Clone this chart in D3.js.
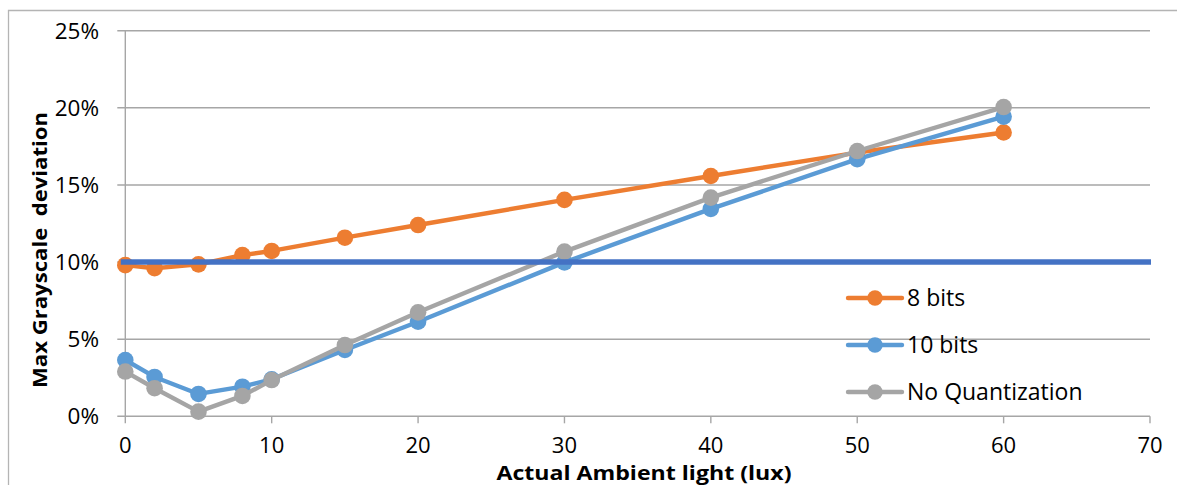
<!DOCTYPE html>
<html>
<head>
<meta charset="utf-8">
<script src="https://cdn.jsdelivr.net/npm/d3@7"></script>
<style>
  html, body { margin: 0; padding: 0; background: #fff; }
  svg { display: block; }
  text { font-family: "Open Sans", "Noto Sans", sans-serif; fill: #000; }
</style>
</head>
<body>
<svg id="chart" width="1177" height="485"></svg>
<script>
const xValues = [0, 2, 5, 8, 10, 15, 20, 30, 40, 50, 60];
const bits8   = [0.098, 0.096, 0.0985, 0.1045, 0.1072, 0.1158, 0.124, 0.1403, 0.1558, 0.171, 0.184];
const bits10  = [0.0365, 0.0255, 0.0145, 0.0192, 0.024, 0.043, 0.0613, 0.0998, 0.1345, 0.1667, 0.1943];
const noQuant = [0.029, 0.0182, 0.003, 0.0132, 0.0235, 0.0462, 0.0674, 0.1068, 0.1418, 0.172, 0.2005];
const thresholdX = [0, 70];
const thresholdValue = 0.10;
const xTicks = [0, 10, 20, 30, 40, 50, 60, 70];
const yTicks = [0, 0.05, 0.10, 0.15, 0.20, 0.25];
const seriesNames = ["8 bits", "10 bits", "No Quantization"];
const seriesColors = ["#ED7D31", "#5B9BD5", "#A5A5A5"];
const xTitle = "Actual Ambient light (lux)";
const yTitle = "Max Grayscale\u00A0 deviation";

const svg = d3.select("#chart");
const x = d3.scaleLinear().domain([0, 70]).range([125.3, 1150]);
const y = d3.scaleLinear().domain([0, 0.25]).range([416.3, 30.7]);

// outer chart border
svg.append("path")
  .attr("d", "M8.5,490 L8.5,10.5 L1180,10.5")
  .attr("fill", "none").attr("stroke", "#b4b4b4").attr("stroke-width", 1.3);

// horizontal gridlines
svg.append("g").selectAll("line").data(yTicks).join("line")
  .attr("x1", x(0) - 8).attr("x2", x(70))
  .attr("y1", d => y(d)).attr("y2", d => y(d))
  .attr("stroke", "#a6a6a6").attr("stroke-width", 1.4);

// y axis line
svg.append("line")
  .attr("x1", x(0)).attr("x2", x(0)).attr("y1", y(0.25)).attr("y2", y(0))
  .attr("stroke", "#a6a6a6").attr("stroke-width", 1.4);

// x axis ticks
svg.append("g").selectAll("line").data(xTicks).join("line")
  .attr("x1", d => x(d)).attr("x2", d => x(d))
  .attr("y1", y(0)).attr("y2", y(0) + 7)
  .attr("stroke", "#a6a6a6").attr("stroke-width", 1.4);

// y tick labels
svg.append("g").selectAll("text").data(yTicks).join("text")
  .attr("x", 99).attr("y", d => y(d)).attr("dy", "0.36em")
  .attr("text-anchor", "end").attr("font-size", 22.5)
  .text(d => d3.format(".0%")(d));

// x tick labels
svg.append("g").selectAll("text").data(xTicks).join("text")
  .attr("x", d => x(d)).attr("y", 452.5)
  .attr("text-anchor", "middle").attr("font-size", 22)
  .text(d => d);

// axis titles
svg.append("text")
  .attr("x", 644).attr("y", 479.5)
  .attr("text-anchor", "middle").attr("font-size", 19).attr("font-weight", "bold")
  .attr("textLength", 295).attr("lengthAdjust", "spacingAndGlyphs")
  .text(xTitle);

svg.append("text")
  .attr("transform", "translate(47,250) rotate(-90)")
  .attr("text-anchor", "middle").attr("font-size", 19).attr("font-weight", "bold")
  .attr("textLength", 276).attr("lengthAdjust", "spacingAndGlyphs")
  .text(yTitle);

// series
const allSeries = [bits8, bits10, noQuant];
const line = d3.line().x((d, i) => x(xValues[i])).y(d => y(d));
const gSeries = svg.append("g");
allSeries.forEach((vals, k) => {
  const g = gSeries.append("g");
  g.append("path").datum(vals)
    .attr("d", line)
    .attr("fill", "none").attr("stroke", seriesColors[k])
    .attr("stroke-width", 4.4).attr("stroke-linejoin", "round");
  g.selectAll("circle").data(vals).join("circle")
    .attr("cx", (d, i) => x(xValues[i])).attr("cy", d => y(d))
    .attr("r", 8.3).attr("fill", seriesColors[k]);
});

// threshold line
svg.append("line")
  .attr("x1", x(thresholdX[0]) - 4.5).attr("x2", x(thresholdX[1]) + 1)
  .attr("y1", y(thresholdValue)).attr("y2", y(thresholdValue))
  .attr("stroke", "#4472C4").attr("stroke-width", 5.5);

// legend
const legendY = d3.scalePoint().domain(seriesNames).range([298, 392]);
const lg = svg.append("g").selectAll("g").data(seriesNames).join("g")
  .attr("transform", d => `translate(0,${legendY(d)})`);
lg.append("line").attr("x1", 848).attr("x2", 902).attr("y1", 0).attr("y2", 0)
  .attr("stroke", (d, i) => seriesColors[i]).attr("stroke-width", 4.4).attr("stroke-linecap", "round");
lg.append("circle").attr("cx", 875).attr("cy", 0).attr("r", 7.7)
  .attr("fill", (d, i) => seriesColors[i]);
lg.append("text").attr("x", 907).attr("y", 0).attr("dy", "0.36em")
  .attr("font-size", 23).text(d => d);
</script>
</body>
</html>
